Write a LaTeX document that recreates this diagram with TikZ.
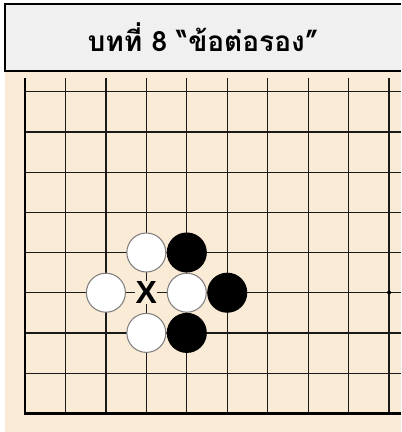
\documentclass[tikz,border=0pt]{standalone}
\usepackage{fontspec}
\setmainfont{Liberation Sans}
\newfontfamily\thaifont[Script=Thai]{Loma}
\usepackage{tikz}
\usetikzlibrary{positioning}

\definecolor{boardbg}{HTML}{FAEBD7}
\definecolor{titlebg}{HTML}{F0F0F0}
\definecolor{gridline}{HTML}{1A1A1A}

\begin{document}
\begin{tikzpicture}[
    x=0.75pt, y=-0.75pt,
    gridl/.style={draw=gridline, line width=0.9pt},
    edgel/.style={draw=black, line width=1.8pt},
    wstone/.style={circle, draw=black!50, line width=0.8pt, fill=white, minimum size=29.25pt, inner sep=0pt},
    bstone/.style={circle, draw=black, line width=0.8pt, fill=black, minimum size=29.25pt, inner sep=0pt},
    xmark/.style={font=\bfseries\fontsize{24}{24}\selectfont, fill=boardbg, inner sep=0.3pt},
    titletext/.style={font=\thaifont\bfseries\fontsize{21}{23}\selectfont},
  ]
  \useasboundingbox (0,0) rectangle (401,432);

  % Board and title box
  \fill[boardbg] (5,71) rectangle (401,432);
  \fill[titlebg] (5,4) rectangle (401,71);
  \draw[edgel] (401,4) -| (5,71) -- (401,71);
  \node[titletext] (title) at (203,37) {บทที่ 8 “ข้อต่อรอง”};

  % Grid
  \foreach \c in {1,...,9}
    \draw[gridl] ({25+40.45*\c},78) -- ({25+40.45*\c},413.3);
  \foreach \r in {0,...,7}
    \draw[gridl] (25,{91.7+40.2*\r}) -- (401,{91.7+40.2*\r});
  \draw[edgel] (25,78) -- (25,413.3) -- (401,413.3);
  \fill[black] (389.05,292.5) circle (2);

  % Stones
  \node[wstone] (w1) at (146.35,252.5) {};
  \node[bstone] (b1) at (186.8,252.5) {};
  \node[wstone] (w2) at (105.9,292.7) {};
  \node[wstone] (w3) at (186.8,292.7) {};
  \node[bstone] (b2) at (227.25,292.7) {};
  \node[wstone] (w4) at (146.35,332.9) {};
  \node[bstone] (b3) at (186.8,332.9) {};

  % Point X
  \node[xmark] (x) at (146.35,292.7) {X};
\end{tikzpicture}
\end{document}
